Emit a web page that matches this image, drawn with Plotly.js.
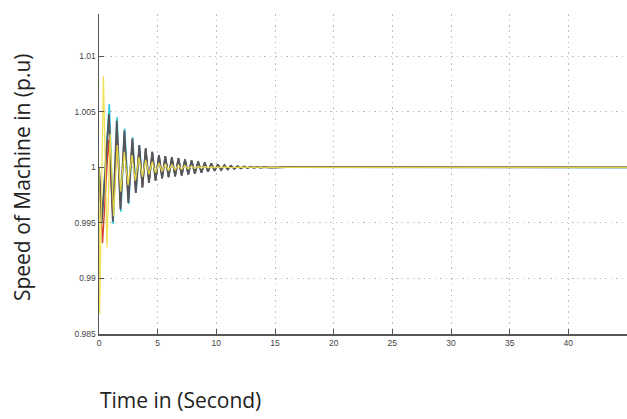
<!DOCTYPE html>
<html>
<head>
<meta charset="utf-8">
<script src="https://cdn.plot.ly/plotly-3.0.1.min.js"></script>
<style>html,body{margin:0;padding:0;background:#fff;}#chart{width:627px;height:419px;}</style>
</head>
<body>
<div id="chart"></div>
<script>
// Time of extrema (s) for the main oscillating machine speed
var darkTime = [0, 0.23, 0.85, 1.18, 1.51, 1.83, 2.16, 2.50, 2.84, 3.13, 3.43, 3.70, 3.98, 4.26, 4.54, 4.82, 5.11, 5.38, 5.65, 5.93, 6.21, 6.49, 6.77, 7.05, 7.33, 7.61, 7.89, 8.17, 8.45, 8.73, 9.01, 9.29, 9.57, 9.85, 10.13, 10.41, 10.69, 10.97, 11.25, 11.53, 11.81, 12.09, 12.37, 12.65, 12.93, 13.21, 13.49, 13.77, 14.05, 14.6, 16, 20, 45];
var darkSpeed = [1, 0.9950, 1.0048, 0.9951, 1.0042, 0.9962, 1.0033, 0.9968, 1.0026, 0.9977, 1.0020, 0.9982, 1.0017, 0.9986, 1.0014, 0.9988, 1.0011, 0.9990, 1.0010, 0.99912, 1.00092, 0.99918, 1.00082, 0.99926, 1.00072, 0.99934, 1.00062, 0.99943, 1.00053, 0.99952, 1.00044, 0.99961, 1.00035, 0.99969, 1.00027, 0.99976, 1.00020, 0.99982, 1.00015, 0.99987, 1.00011, 0.99991, 1.00008, 0.99994, 1.00006, 0.99996, 1.00004, 0.99997, 1.00003, 0.99998, 1.00001, 1, 1];

// Cyan machine: slightly later and higher early peaks
var cyanTime = [0, 0.26, 0.88, 1.21, 1.54, 1.86, 2.19, 2.53, 2.87, 3.16, 3.46];
var cyanSpeed = [1, 0.9953, 1.0057, 0.9949, 1.0045, 0.9960, 1.0035, 0.9967, 1.0027, 0.9977, 1.0020];

// Red machine: deeper first dip, lower early peaks
var redTime = [0, 0.30, 0.82, 1.18, 1.56, 1.83, 2.16, 2.50, 2.84, 3.13, 3.43];
var redSpeed = [1, 0.9932, 1.0025, 0.9955, 1.0029, 0.9964, 1.0027, 0.9970, 1.0024, 0.9978, 1.0019];

// Yellow machine: fast large first swing, then smaller oscillation
var yellowTime = [0, 0.05, 0.38, 0.68, 0.95, 1.25, 1.55, 1.85, 2.15, 2.48, 2.80, 3.10, 3.40, 3.70, 3.98, 4.26, 4.54, 4.82, 5.11, 5.38, 5.65, 5.93, 6.21, 6.49, 6.77, 7.05, 7.33, 7.61, 7.89, 8.17, 8.45, 8.73, 9.01, 9.29, 9.57, 9.85, 10.13, 10.41, 10.69, 11.25, 12, 13, 45];
var yellowSpeed = [1, 0.9868, 1.0082, 0.9928, 1.0030, 0.9956, 1.0020, 0.9978, 1.0014, 0.9984, 1.0011, 0.9988, 1.0009, 0.99915, 1.00068, 0.99935, 1.00052, 0.9995, 1.0004, 0.99962, 1.00032, 0.9997, 1.00025, 0.99977, 1.0002, 0.99982, 1.00016, 0.99986, 1.00012, 0.9999, 1.00009, 0.99993, 1.00007, 0.99995, 1.00005, 0.99996, 1.00004, 0.99997, 1.00003, 0.99998, 1.00001, 1, 1];

var xTickVals = [0, 5, 10, 15, 20, 25, 30, 35, 40];
var xTickText = ['0', '5', '10', '15', '20', '25', '30', '35', '40'];
var yTickVals = [0.985, 0.99, 0.995, 1, 1.005, 1.01];
var yTickText = ['0.985', '0.99', '0.995', '1', '1.005', '1.01'];

// cyan and red continue along the main machine after their early part
var nC = cyanTime.length;
var cyanT = cyanTime.concat(darkTime.slice(nC));
var cyanY = cyanSpeed.concat(darkSpeed.slice(nC));
var redT = redTime.concat(darkTime.slice(redTime.length));
var redY = redSpeed.concat(darkSpeed.slice(redSpeed.length));

var traces = [
  {x: cyanT, y: cyanY, mode: 'lines', line: {color: '#2cc9d6', width: 1.6}, hoverinfo: 'none'},
  {x: redT, y: redY, mode: 'lines', line: {color: '#d8402c', width: 1.4}, hoverinfo: 'none'},
  {x: darkTime, y: darkSpeed, mode: 'lines', line: {color: '#55565c', width: 1.8}, hoverinfo: 'none'},
  {x: yellowTime, y: yellowSpeed, mode: 'lines', line: {color: 'rgba(240,222,70,0.9)', width: 1.3}, hoverinfo: 'none'}
];

var tickFont = {family: 'Liberation Sans Narrow, Arial Narrow, sans-serif', size: 8.5, color: '#444'};
var layout = {
  width: 627, height: 419,
  margin: {l: 99, r: 0, t: 14, b: 85},
  paper_bgcolor: '#fff', plot_bgcolor: '#fff',
  showlegend: false,
  xaxis: {
    range: [0, 45], tickvals: xTickVals, ticktext: xTickText,
    showgrid: true, gridcolor: '#bdbdbd', griddash: '1.5px,4px', gridwidth: 1,
    showline: true, linecolor: '#555', linewidth: 1.5,
    ticks: 'inside', ticklen: 5, tickcolor: '#555', tickfont: tickFont,
    zeroline: false
  },
  yaxis: {
    range: [0.985, 1.0138], tickvals: yTickVals, ticktext: yTickText,
    showgrid: true, gridcolor: '#bdbdbd', griddash: '1.5px,4px', gridwidth: 1,
    showline: true, linecolor: '#555', linewidth: 1.5,
    ticks: 'inside', ticklen: 5, tickcolor: '#555', tickfont: tickFont,
    zeroline: false
  },
  annotations: [
    {text: 'Speed of Machine in (p.u)', xref: 'paper', yref: 'paper', x: -0.146, y: 0.49,
     xanchor: 'center', yanchor: 'middle', textangle: -90, showarrow: false,
     font: {family: 'Open Sans, sans-serif', size: 21, color: '#222'}},
    {text: 'Time in (Second)', xref: 'paper', yref: 'paper', x: -0.002, y: -0.206,
     xanchor: 'left', yanchor: 'middle', showarrow: false,
     font: {family: 'Open Sans, sans-serif', size: 21, color: '#222'}}
  ]
};
Plotly.newPlot('chart', traces, layout, {staticPlot: true, displayModeBar: false});
</script>
</body>
</html>
